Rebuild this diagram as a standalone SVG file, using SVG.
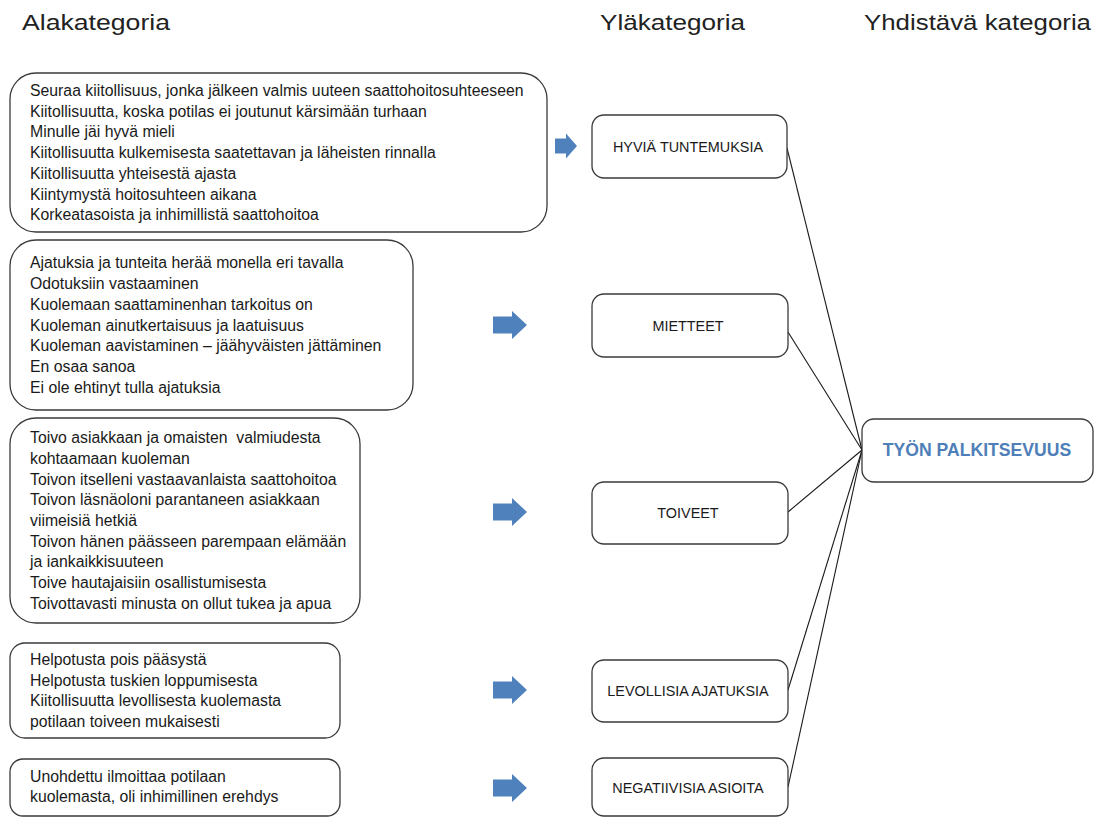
<svg xmlns="http://www.w3.org/2000/svg" width="1096" height="818" viewBox="0 0 1096 818">
<defs>
<style>
.hdr{font-family:"Liberation Sans",Arial,sans-serif;font-size:22px;fill:#222222}
.t{font-family:"Liberation Sans",Arial,sans-serif;font-size:15.8px;fill:#1a1a1a;white-space:pre}
.c{font-family:"Liberation Sans",Arial,sans-serif;font-size:14.4px;fill:#1a1a1a;text-anchor:middle}
.main{font-family:"Liberation Sans",Arial,sans-serif;font-size:17.6px;font-weight:bold;fill:#4F7FB8;text-anchor:middle}
.box{fill:#ffffff;stroke:#3a3a3a;stroke-width:1.3}
.arrow{fill:#4F81BD}
.conn{stroke:#1a1a1a;stroke-width:1.1;fill:none}
</style>
<path id="arrowBig" d="M0,-8.5 H19 V-14 L34,0 L19,14 V8.5 H0 Z"/>
<path id="arrowSmall" d="M0,-7.5 H11 V-12.5 L22,0 L11,12.5 V7.5 H0 Z"/>
</defs>
<rect width="1096" height="818" fill="#ffffff"/>

<g id="headers">
<text class="hdr" x="22" y="30" textLength="148" lengthAdjust="spacingAndGlyphs">Alakategoria</text>
<text class="hdr" x="600" y="30" textLength="145" lengthAdjust="spacingAndGlyphs">Yläkategoria</text>
<text class="hdr" x="864" y="30" textLength="227" lengthAdjust="spacingAndGlyphs">Yhdistävä kategoria</text>
</g>

<g id="connectors">
<line class="conn" x1="787" y1="148" x2="862" y2="450"/>
<line class="conn" x1="788" y1="332" x2="862" y2="450"/>
<line class="conn" x1="788" y1="512" x2="862" y2="450"/>
<line class="conn" x1="788" y1="690" x2="862" y2="450"/>
<line class="conn" x1="788" y1="787" x2="862" y2="450"/>
</g>

<g id="arrows">
<use href="#arrowSmall" class="arrow" x="555" y="146"/>
<use href="#arrowBig" class="arrow" x="493" y="325"/>
<use href="#arrowBig" class="arrow" x="493" y="512"/>
<use href="#arrowBig" class="arrow" x="493" y="690"/>
<use href="#arrowBig" class="arrow" x="493" y="788"/>
</g>

<g id="sub1">
<rect class="box" x="10" y="73" width="537" height="159" rx="26"/>
<text class="t" x="30" y="96">Seuraa kiitollisuus, jonka jälkeen valmis uuteen saattohoitosuhteeseen</text>
<text class="t" x="30" y="116.7">Kiitollisuutta, koska potilas ei joutunut kärsimään turhaan</text>
<text class="t" x="30" y="137.4">Minulle jäi hyvä mieli</text>
<text class="t" x="30" y="158.1">Kiitollisuutta kulkemisesta saatettavan ja läheisten rinnalla</text>
<text class="t" x="30" y="178.8">Kiitollisuutta yhteisestä ajasta</text>
<text class="t" x="30" y="199.5">Kiintymystä hoitosuhteen aikana</text>
<text class="t" x="30" y="220.2">Korkeatasoista ja inhimillistä saattohoitoa</text>
</g>

<g id="sub2">
<rect class="box" x="10" y="240" width="403" height="170" rx="26"/>
<text class="t" x="30" y="268.4">Ajatuksia ja tunteita herää monella eri tavalla</text>
<text class="t" x="30" y="289.1">Odotuksiin vastaaminen</text>
<text class="t" x="30" y="309.8">Kuolemaan saattaminenhan tarkoitus on</text>
<text class="t" x="30" y="330.5">Kuoleman ainutkertaisuus ja laatuisuus</text>
<text class="t" x="30" y="351.2">Kuoleman aavistaminen – jäähyväisten jättäminen</text>
<text class="t" x="30" y="371.9">En osaa sanoa</text>
<text class="t" x="30" y="392.6">Ei ole ehtinyt tulla ajatuksia</text>
</g>

<g id="sub3">
<rect class="box" x="10" y="418" width="350" height="205" rx="26"/>
<text class="t" x="30" y="443.2">Toivo asiakkaan ja omaisten  valmiudesta</text>
<text class="t" x="30" y="463.9">kohtaamaan kuoleman</text>
<text class="t" x="30" y="484.6">Toivon itselleni vastaavanlaista saattohoitoa</text>
<text class="t" x="30" y="505.3">Toivon läsnäoloni parantaneen asiakkaan</text>
<text class="t" x="30" y="526">viimeisiä hetkiä</text>
<text class="t" x="30" y="546.7">Toivon hänen päässeen parempaan elämään</text>
<text class="t" x="30" y="567.4">ja iankaikkisuuteen</text>
<text class="t" x="30" y="588.1">Toive hautajaisiin osallistumisesta</text>
<text class="t" x="30" y="608.8">Toivottavasti minusta on ollut tukea ja apua</text>
</g>

<g id="sub4">
<rect class="box" x="10" y="643" width="330" height="95" rx="15"/>
<text class="t" x="30" y="665">Helpotusta pois pääsystä</text>
<text class="t" x="30" y="685.7">Helpotusta tuskien loppumisesta</text>
<text class="t" x="30" y="706.4">Kiitollisuutta levollisesta kuolemasta</text>
<text class="t" x="30" y="727.1">potilaan toiveen mukaisesti</text>
</g>

<g id="sub5">
<rect class="box" x="10" y="759" width="330" height="57" rx="13"/>
<text class="t" x="30" y="781.5">Unohdettu ilmoittaa potilaan</text>
<text class="t" x="30" y="802.2">kuolemasta, oli inhimillinen erehdys</text>
</g>

<g id="hyvia">
<rect class="box" x="592" y="115" width="195" height="63" rx="12"/>
<text class="c" x="688" y="152">HYVIÄ TUNTEMUKSIA</text>
</g>
<g id="mietteet">
<rect class="box" x="592" y="294" width="196" height="63" rx="12"/>
<text class="c" x="688" y="331">MIETTEET</text>
</g>
<g id="toiveet">
<rect class="box" x="592" y="482" width="196" height="62" rx="12"/>
<text class="c" x="688" y="518">TOIVEET</text>
</g>
<g id="levollisia">
<rect class="box" x="592" y="660" width="196" height="62" rx="12"/>
<text class="c" x="688" y="696">LEVOLLISIA AJATUKSIA</text>
</g>
<g id="negatiivisia">
<rect class="box" x="592" y="758" width="196" height="58" rx="12"/>
<text class="c" x="688" y="793">NEGATIIVISIA ASIOITA</text>
</g>

<g id="tyon">
<rect class="box" x="862" y="419" width="231" height="63" rx="12"/>
<text class="main" x="977" y="456">TYÖN PALKITSEVUUS</text>
</g>
</svg>
